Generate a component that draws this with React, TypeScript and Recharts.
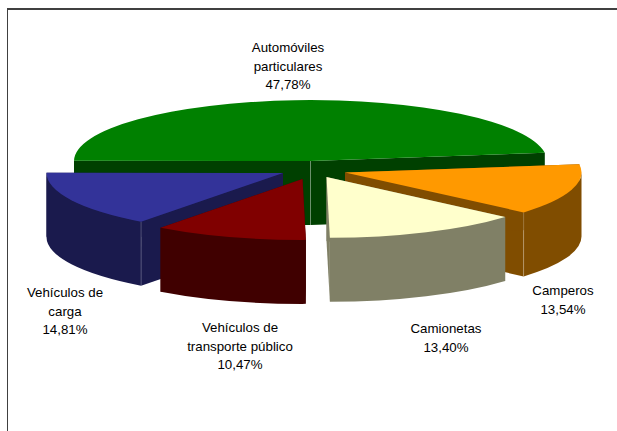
import { PieChart, Pie } from "recharts";

const categories = [
  "Automóviles particulares",
  "Vehículos de carga",
  "Vehículos de transporte público",
  "Camionetas",
  "Camperos",
];
const shares = [47.78, 14.81, 10.47, 13.4, 13.54];
const labelLines = [
  ["Automóviles", "particulares"],
  ["Vehículos de", "carga"],
  ["Vehículos de", "transporte público"],
  ["Camionetas"],
  ["Camperos"],
];
const topColors = ["#008000", "#333399", "#800000", "#FFFFCC", "#FF9900"];
const sideColors = ["#004000", "#1A1A4D", "#400000", "#808066", "#804D00"];

// pie layout
const CX = 310.5;
const CY = 161;
const RADIUS = 236.5;
const TILT = 0.2574;
const DEPTH = 64;
const START_ANGLE = 7.8;
const explode = [
  [0, 0],
  [-27.5, 12],
  [-8, 18],
  [16, 16],
  [34.5, 11.5],
];
const labelPos = [
  [288, 52],
  [65, 297],
  [240, 332],
  [446, 333],
  [563, 295],
];
const LINE_HEIGHT = 18.7;

// camionetas has to sit on top of camperos, so two paint passes
const backPass = [0, 1, 4];
const frontPass = [2, 3];

const chartData = categories.map((name, i) => ({
  name,
  value: shares[i],
  fill: topColors[i],
}));

function point(x: number, y: number, angle: number) {
  const rad = (angle * Math.PI) / 180;
  return [x + RADIUS * Math.cos(rad), y - RADIUS * TILT * Math.sin(rad)];
}

function Seam({ p }: { p: number[] }) {
  return (
    <line
      x1={p[0]}
      y1={p[1]}
      x2={p[0]}
      y2={p[1] + DEPTH}
      stroke="#fff"
      strokeOpacity={0.3}
      strokeWidth={0.8}
    />
  );
}

function makeSlice(pass: number[]) {
  return function Slice(props: any) {
    const idx = categories.indexOf(props.payload?.name ?? props.name);
    if (!pass.includes(idx)) return <g />;

    const { startAngle, endAngle } = props;
    const rx = RADIUS;
    const ry = RADIUS * TILT;
    const x = CX + explode[idx][0];
    const y = CY + explode[idx][1];
    const side = sideColors[idx];

    const a = point(x, y, startAngle);
    const b = point(x, y, endAngle);
    const large = endAngle - startAngle > 180 ? 1 : 0;
    const top = `M${x},${y} L${a[0]},${a[1]} A${rx},${ry} 0 ${large} 0 ${b[0]},${b[1]} Z`;

    const wallOf = (p: number[]) =>
      `M${x},${y} L${p[0]},${p[1]} L${p[0]},${p[1] + DEPTH} L${x},${y + DEPTH} Z`;

    // the rim only shows on the front half
    const from = Math.max(startAngle, 180);
    const to = Math.min(endAngle, 360);
    let rim = null;
    if (to > from) {
      const p = point(x, y, from);
      const q = point(x, y, to);
      const d = `M${p[0]},${p[1]} A${rx},${ry} 0 0 0 ${q[0]},${q[1]} L${q[0]},${q[1] + DEPTH} A${rx},${ry} 0 0 1 ${p[0]},${p[1] + DEPTH} Z`;
      rim = <path d={d} fill={side} />;
    }

    return (
      <g>
        <path d={wallOf(a)} fill={side} />
        <path d={wallOf(b)} fill={side} />
        {idx === 0 ? <Seam p={[x, y]} /> : null}
        {rim}
        {idx === 1 ? <Seam p={b} /> : null}
        {idx === 4 ? <Seam p={a} /> : null}
        <path d={top} fill={topColors[idx]} />
      </g>
    );
  };
}

function renderLabel(props: any) {
  const idx = categories.indexOf(props.payload?.name ?? props.name);
  const [lx, ly] = labelPos[idx];
  const lines = [...labelLines[idx], `${shares[idx].toFixed(2).replace(".", ",")}%`];
  return (
    <text
      x={lx}
      y={ly}
      textAnchor="middle"
      fontFamily="'Liberation Sans', Arial, sans-serif"
      fontSize={13.3}
      fill="#000"
    >
      {lines.map((line, i) => (
        <tspan key={i} x={lx} y={ly + i * LINE_HEIGHT}>
          {line}
        </tspan>
      ))}
    </text>
  );
}

export default function App() {
  return (
    <div style={{ position: "absolute", left: 0, top: 0, width: 617, height: 431, background: "#fff" }}>
      <div
        style={{
          position: "absolute",
          left: 7,
          top: 8,
          width: 610,
          height: 423,
          boxSizing: "border-box",
          borderLeft: "1.5px solid #404040",
          borderTop: "2px solid #404040",
        }}
      />
      <div style={{ position: "absolute", left: 0, top: 0 }}>
        <PieChart width={617} height={431} margin={{ top: 0, right: 0, bottom: 0, left: 0 }}>
          <Pie
            data={chartData}
            dataKey="value"
            nameKey="name"
            cx={CX}
            cy={CY}
            outerRadius={RADIUS}
            startAngle={START_ANGLE}
            endAngle={START_ANGLE + 360}
            stroke="none"
            shape={makeSlice(backPass)}
            label={false}
            labelLine={false}
            isAnimationActive={false}
          />
          <Pie
            data={chartData}
            dataKey="value"
            nameKey="name"
            cx={CX}
            cy={CY}
            outerRadius={RADIUS}
            startAngle={START_ANGLE}
            endAngle={START_ANGLE + 360}
            stroke="none"
            shape={makeSlice(frontPass)}
            label={renderLabel}
            labelLine={false}
            isAnimationActive={false}
          />
        </PieChart>
      </div>
    </div>
  );
}
